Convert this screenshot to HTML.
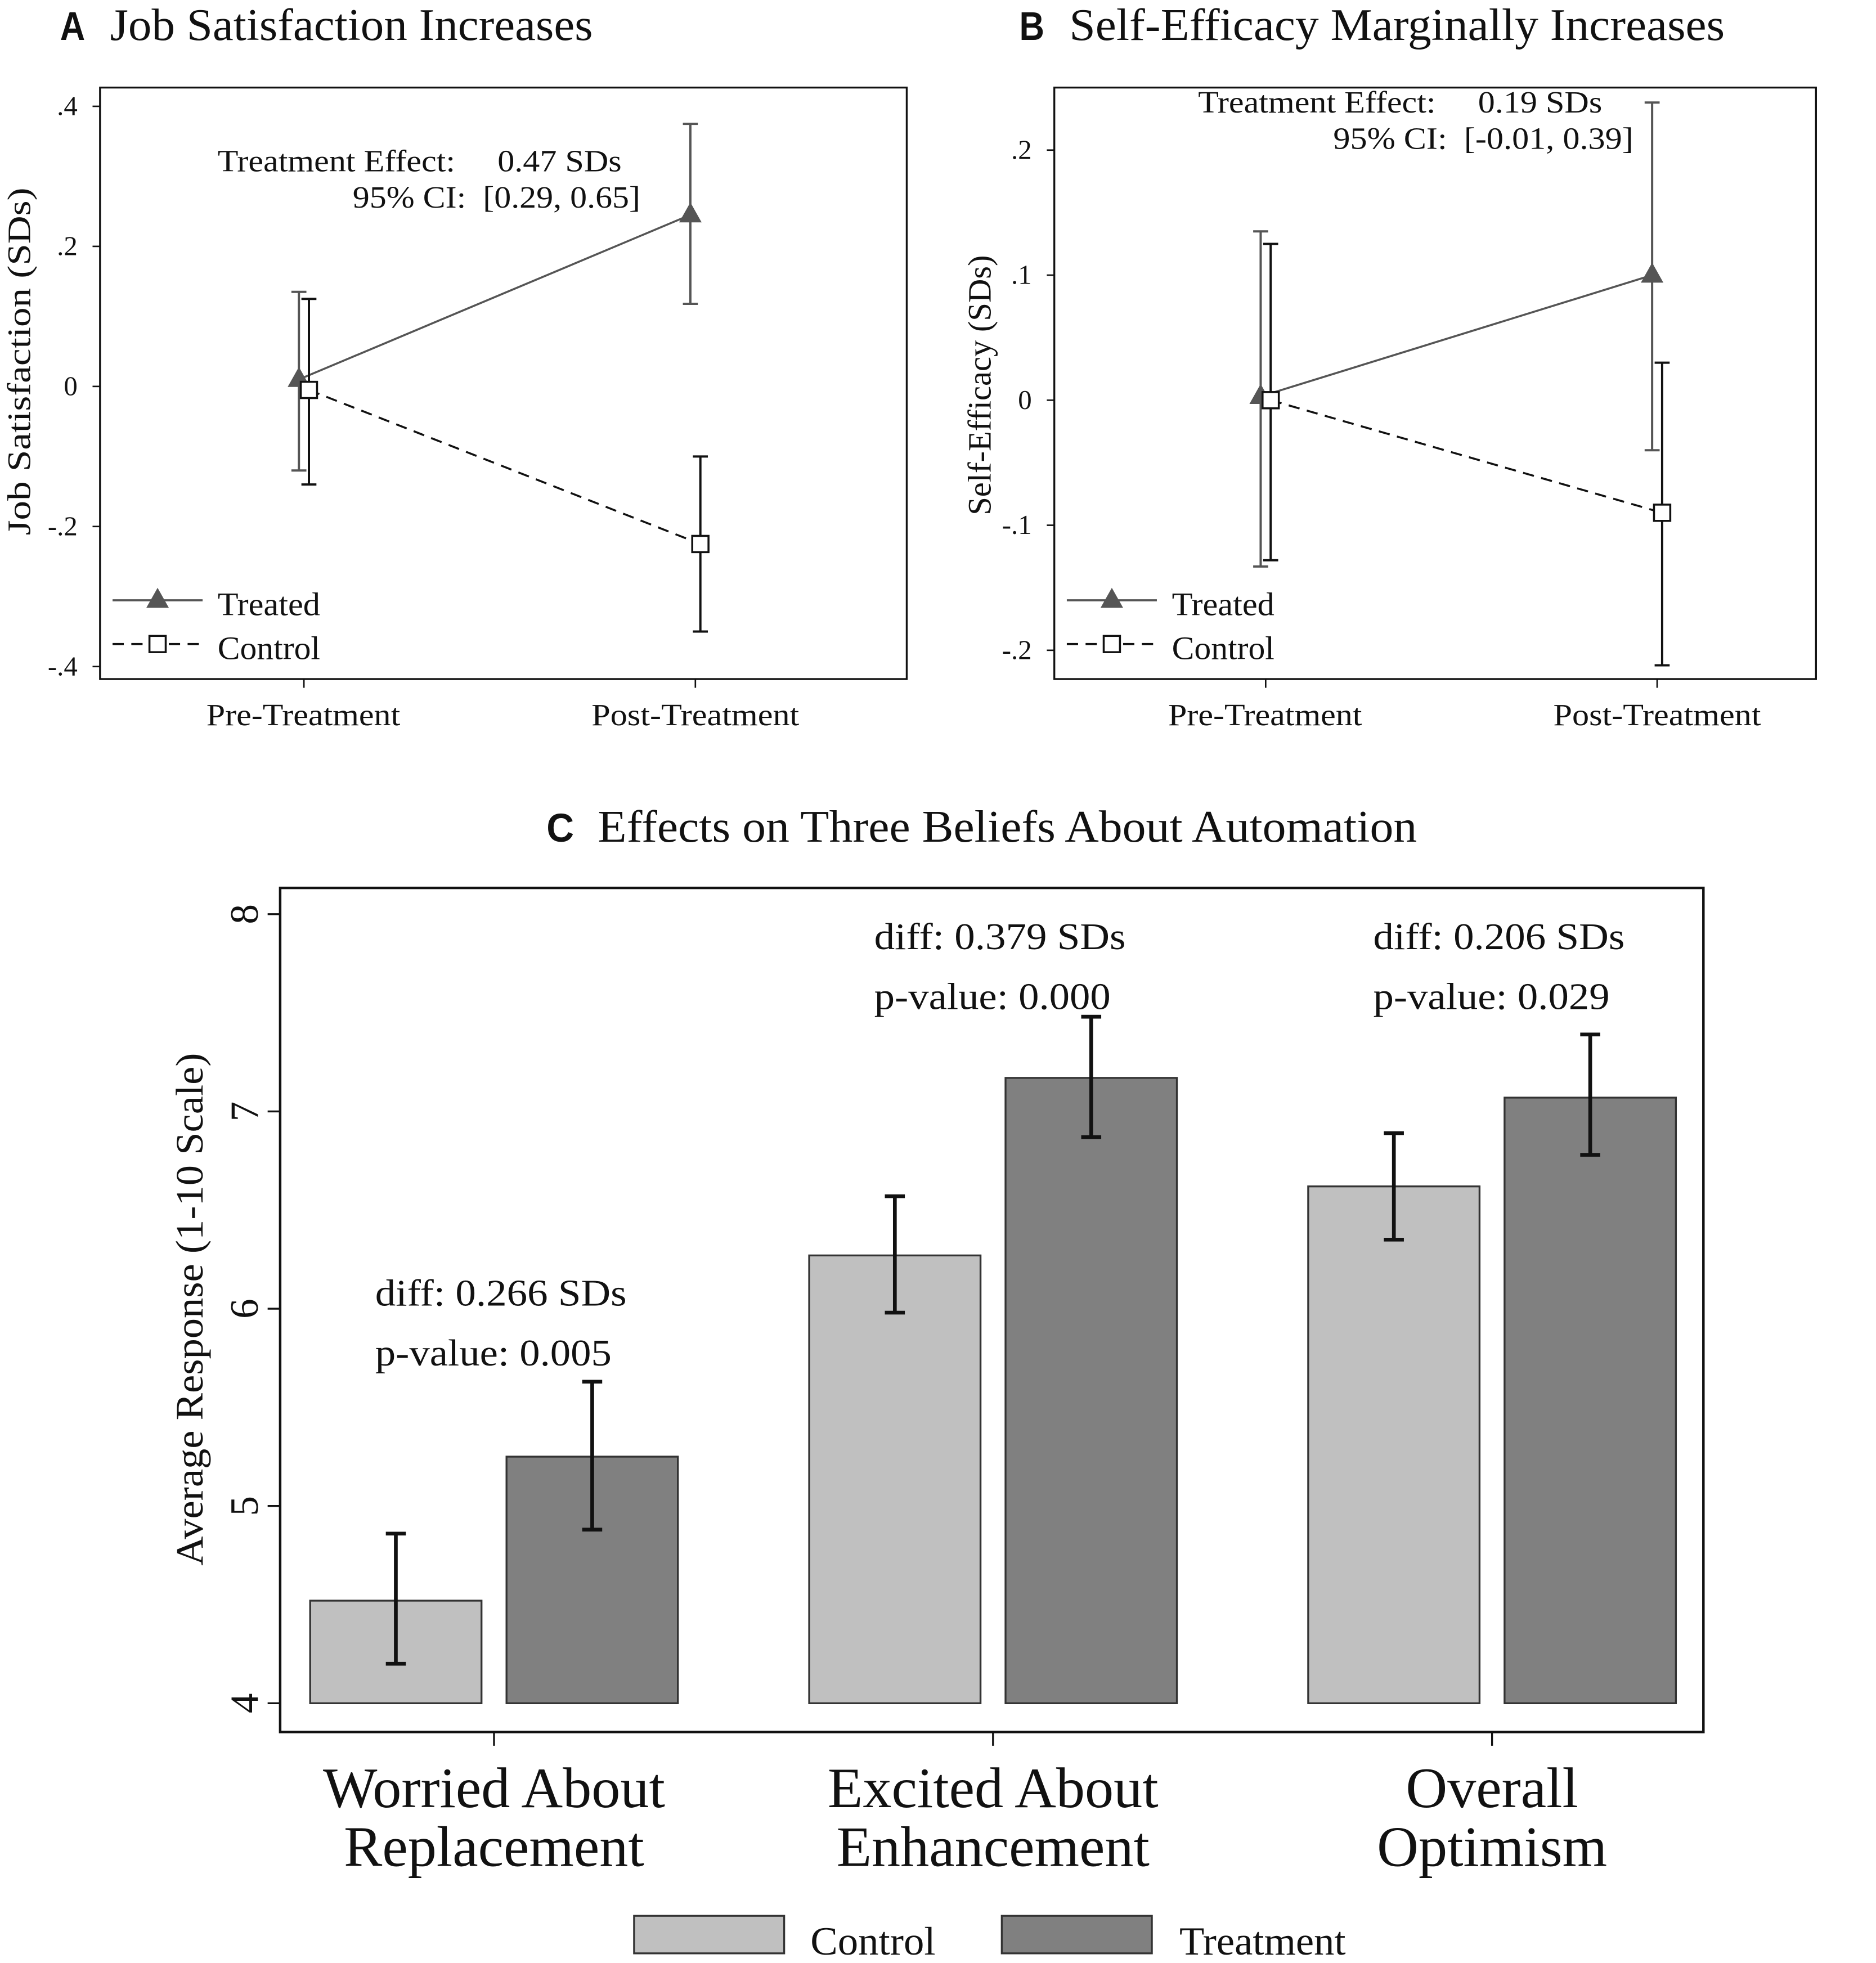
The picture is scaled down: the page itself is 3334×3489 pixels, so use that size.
<!DOCTYPE html>
<html><head><meta charset="utf-8"><style>
html,body{margin:0;padding:0;background:#fff;}
svg{display:block;}
text{font-family:"Liberation Serif",serif;fill:#111;white-space:pre;}
.bold{font-family:"Liberation Sans",sans-serif;font-weight:bold;}
</style></head><body>
<svg id="fig" width="3334" height="3489" viewBox="0 0 1500 1569.7" xmlns="http://www.w3.org/2000/svg">
<rect width="1500" height="1570" fill="#fff"/>
<g id="gA"></g>
<g id="gB"></g>
<g id="gC"></g>
</svg>
<script>
// Panel A data
const periods = ["Pre-Treatment", "Post-Treatment"];
const aTreated = [0.01, 0.245];
const aTreatedLo = [-0.12, 0.118];
const aTreatedHi = [0.135, 0.375];
const aControl = [-0.005, -0.225];
const aControlLo = [-0.14, -0.35];
const aControlHi = [0.125, -0.1];
const aTicks = [0.4, 0.2, 0, -0.2, -0.4];
const aTickLabels = [".4", ".2", "0", "-.2", "-.4"];
// Panel B data
const bTreated = [0.003, 0.1];
const bTreatedLo = [-0.133, -0.04];
const bTreatedHi = [0.135, 0.238];
const bControl = [0.0, -0.09];
const bControlLo = [-0.128, -0.212];
const bControlHi = [0.125, 0.03];
const bTicks = [0.2, 0.1, 0, -0.1, -0.2];
const bTickLabels = [".2", ".1", "0", "-.1", "-.2"];
// Panel C data
const cCategories = [["Worried About","Replacement"],["Excited About","Enhancement"],["Overall","Optimism"]];
const cControl = [4.52, 6.27, 6.62];
const cControlLo = [4.2, 5.98, 6.35];
const cControlHi = [4.86, 6.57, 6.89];
const cTreatment = [5.25, 7.17, 7.07];
const cTreatmentLo = [4.88, 6.87, 6.78];
const cTreatmentHi = [5.63, 7.48, 7.39];
const cDiff = ["diff: 0.266 SDs", "diff: 0.379 SDs", "diff: 0.206 SDs"];
const cPval = ["p-value: 0.005", "p-value: 0.000", "p-value: 0.029"];
const cTicks = [8, 7, 6, 5, 4];

const NS = "http://www.w3.org/2000/svg";
function mk(parent, tag, attrs, txt){
  const e = document.createElementNS(NS, tag);
  for (const k in attrs) e.setAttribute(k, attrs[k]);
  if (txt !== undefined) e.textContent = txt;
  parent.appendChild(e);
  return e;
}
function fit(attrs, len){ attrs.textLength = len; attrs.lengthAdjust = "spacingAndGlyphs"; return attrs; }

function linePanel(g, cfg){
  const {x0,x1,y0,y1,xs,yv0,yp0,yv1,yp1} = cfg;
  const ys = v => yp0 + (v - yv0) * (yp1 - yp0) / (yv1 - yv0);
  let t = mk(g,"text",fit({x:cfg.titleX,y:32,"font-size":32,class:"bold"},20),cfg.letter);
  
  
  t = mk(g,"text",fit({x:cfg.titleX+40,y:32,"font-size":36},cfg.titleLen),cfg.title);
  
  
  let r = mk(g,"rect",{x:x0,y:y0,width:x1-x0,height:y1-y0,fill:"none",stroke:"#111","stroke-width":1.5});
  
  
  cfg.ticks.forEach((v,i)=>{
    const y = ys(v);
    let l = mk(g,"line",{x1:x0-6,x2:x0,y1:y,y2:y,stroke:"#111","stroke-width":1.2});
    
    
    let tx = mk(g,"text",{x:x0-18,y:y+7,"font-size":22,"text-anchor":"end"},cfg.tickLabels[i]);
    
    
  });
  periods.forEach((p,i)=>{
    let l = mk(g,"line",{x1:xs[i],x2:xs[i],y1:y1,y2:y1+7,stroke:"#111","stroke-width":1.2});
    
    
    let tx = mk(g,"text",fit({x:xs[i]-(i?83:78),y:y1+37,"font-size":25},i?166:155),p);
    
    
  });
  let yt = mk(g,"text",fit({x:0,y:0,"font-size":26,transform:`translate(${cfg.ytX},${cfg.ytY}) rotate(-90)`},cfg.ytLen),cfg.yTitle);
  
  
  const off = 4;
  const series = [
    {v:cfg.tr,lo:cfg.trLo,hi:cfg.trHi,col:"#555",dx:-off,dash:null,name:"treated"},
    {v:cfg.co,lo:cfg.coLo,hi:cfg.coHi,col:"#111",dx:off,dash:"9,6",name:"control"}
  ];
  series.forEach(s=>{
    s.v.forEach((v,i)=>{
      const x = xs[i]+s.dx;
      let e = mk(g,"path",{d:`M${x-6},${ys(s.hi[i])}H${x+6}M${x},${ys(s.hi[i])}V${ys(s.lo[i])}M${x-6},${ys(s.lo[i])}H${x+6}`,stroke:s.col,"stroke-width":1.8,fill:"none"});
      
      
    });
    const attrs = {x1:xs[0]+s.dx,y1:ys(s.v[0]),x2:xs[1]+s.dx,y2:ys(s.v[1]),stroke:s.col,"stroke-width":1.6};
    if (s.dash) attrs["stroke-dasharray"]=s.dash;
    let ln = mk(g,"line",attrs);
    
    
    s.v.forEach((v,i)=>{
      const x = xs[i]+s.dx, y = ys(v);
      let m;
      if (s.name==="treated") m = mk(g,"path",{d:`M${x},${y-10}L${x+9},${y+6}L${x-9},${y+6}Z`,fill:"#555"});
      else m = mk(g,"rect",{x:x-6.5,y:y-6.5,width:13,height:13,fill:"#fff",stroke:"#111","stroke-width":1.6});
      
      
    });
  });
  let a1 = mk(g,"text",fit({x:cfg.annX,y:cfg.annY,"font-size":25},cfg.ann1Len),cfg.ann1);
  
  
  let a2 = mk(g,"text",fit({x:cfg.annX2,y:cfg.annY+29,"font-size":25},cfg.ann2Len),cfg.ann2);
  
  
  const lx = x0+10;
  let l1 = mk(g,"line",{x1:lx,x2:lx+72,y1:480,y2:480,stroke:"#555","stroke-width":1.6});
  
  
  let m1 = mk(g,"path",{d:`M${lx+36},470L${lx+45},486L${lx+27},486Z`,fill:"#555"});
  
  
  let t1 = mk(g,"text",fit({x:lx+84,y:492,"font-size":26},82),"Treated");
  
  
  let l2 = mk(g,"line",{x1:lx,x2:lx+72,y1:515,y2:515,stroke:"#111","stroke-width":1.6,"stroke-dasharray":"9,6"});
  
  
  let m2 = mk(g,"rect",{x:lx+29.5,y:508.5,width:13,height:13,fill:"#fff",stroke:"#111","stroke-width":1.6});
  
  
  let t2 = mk(g,"text",fit({x:lx+84,y:527,"font-size":26},82),"Control");
  
  
}

linePanel(document.getElementById("gA"),{letter:"A",title:"Job Satisfaction Increases",titleX:48,titleLen:386,
  x0:80,x1:725,y0:70,y1:543,xs:[243,556],yv0:0.4,yp0:85,yv1:-0.4,yp1:533,
  ticks:aTicks,tickLabels:aTickLabels,ytX:24,ytY:428,ytLen:278,yTitle:"Job Satisfaction (SDs)",
  tr:aTreated,trLo:aTreatedLo,trHi:aTreatedHi,co:aControl,coLo:aControlLo,coHi:aControlHi,
  annX:174,annX2:282,annY:137,ann1:"Treatment Effect:     0.47 SDs",ann1Len:323,ann2:"95% CI:  [0.29, 0.65]",ann2Len:230});
linePanel(document.getElementById("gB"),{letter:"B",title:"Self-Efficacy Marginally Increases",titleX:815,titleLen:524,
  x0:843,x1:1452,y0:70,y1:543,xs:[1012,1325],yv0:0.2,yp0:120,yv1:-0.2,yp1:520,
  ticks:bTicks,tickLabels:bTickLabels,ytX:792,ytY:412,ytLen:208,yTitle:"Self-Efficacy (SDs)",
  tr:bTreated,trLo:bTreatedLo,trHi:bTreatedHi,co:bControl,coLo:bControlLo,coHi:bControlHi,
  annX:958,annX2:1066,annY:90,ann1:"Treatment Effect:     0.19 SDs",ann1Len:323,ann2:"95% CI:  [-0.01, 0.39]",ann2Len:240});

(function(){
  const g = document.getElementById("gC");
  const x0=224,x1=1362,y0=710,y1=1385;
  const ys = v => 1362 + (v-4)*(731-1362)/4;
  const centers=[395,794,1193], bw=137, gap=10;
  const annTop=[1035,750,750];
  let t = mk(g,"text",fit({x:437,y:673,"font-size":32,class:"bold"},22),"C");
  
  
  t = mk(g,"text",fit({x:478,y:673,"font-size":36},655),"Effects on Three Beliefs About Automation");
  
  
  let r = mk(g,"rect",{x:x0,y:y0,width:x1-x0,height:y1-y0,fill:"none",stroke:"#111","stroke-width":2});
  
  
  cTicks.forEach(v=>{
    const y=ys(v);
    let l = mk(g,"line",{x1:x0-10,x2:x0,y1:y,y2:y,stroke:"#111","stroke-width":1.5});
    
    
    let tx = mk(g,"text",{x:0,y:0,"font-size":32,"text-anchor":"middle",transform:`translate(${x0-18},${y}) rotate(-90)`},String(v));
    
    
  });
  let yt = mk(g,"text",fit({x:0,y:0,"font-size":31,transform:`translate(162,1252) rotate(-90)`},410),"Average Response (1-10 Scale)");
  
  
  cCategories.forEach((c,i)=>{
    const cx=centers[i];
    const bars=[{v:cControl[i],lo:cControlLo[i],hi:cControlHi[i],x:cx-gap-bw,fill:"#c0c0c0",n:"control"},
                {v:cTreatment[i],lo:cTreatmentLo[i],hi:cTreatmentHi[i],x:cx+gap,fill:"#808080",n:"treatment"}];
    bars.forEach(b=>{
      let rb = mk(g,"rect",{x:b.x,y:ys(b.v),width:bw,height:ys(4)-ys(b.v),fill:b.fill,stroke:"#333","stroke-width":1.5});
      
      
      const ex=b.x+bw/2;
      let e = mk(g,"path",{d:`M${ex-8},${ys(b.hi)}H${ex+8}M${ex},${ys(b.hi)}V${ys(b.lo)}M${ex-8},${ys(b.lo)}H${ex+8}`,stroke:"#111","stroke-width":3,fill:"none"});
      
      
    });
    let l = mk(g,"line",{x1:cx,x2:cx,y1:y1,y2:y1+11,stroke:"#111","stroke-width":1.5});
    
    
    c.forEach((s,k)=>{
      let tx = mk(g,"text",{x:cx,y:1445+k*47,"font-size":46,"text-anchor":"middle"},s);
      
      
    });
    const ax = cx-95;
    let d = mk(g,"text",fit({x:ax,y:annTop[i]+9,"font-size":30},201),cDiff[i]);
    
    
    let p = mk(g,"text",fit({x:ax,y:annTop[i]+57,"font-size":30},189),cPval[i]);
    
    
  });
  let lr1 = mk(g,"rect",{x:507,y:1532,width:120,height:30,fill:"#c0c0c0",stroke:"#333","stroke-width":1.5});
  
  
  let lt1 = mk(g,"text",fit({x:648,y:1563,"font-size":32},100),"Control");
  
  
  let lr2 = mk(g,"rect",{x:801,y:1532,width:120,height:30,fill:"#808080",stroke:"#333","stroke-width":1.5});
  
  
  let lt2 = mk(g,"text",fit({x:943,y:1563,"font-size":32},133),"Treatment");
  
  
})();
</script>
</body></html>
